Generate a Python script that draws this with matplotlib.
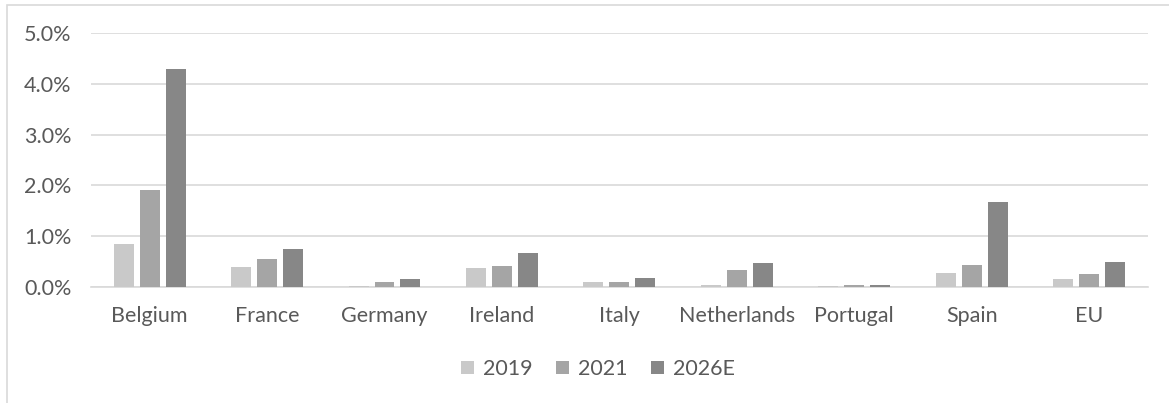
import matplotlib
matplotlib.use("Agg")
import matplotlib.pyplot as plt
import numpy as np
from matplotlib.patches import Rectangle
from matplotlib.ticker import FuncFormatter

countries = ["Belgium", "France", "Germany", "Ireland", "Italy",
             "Netherlands", "Portugal", "Spain", "EU"]
years = ["2019", "2021", "2026E"]
share_2019 = [0.85, 0.39, 0.01, 0.37, 0.09, 0.03, 0.01, 0.28, 0.15]
share_2021 = [1.90, 0.55, 0.10, 0.41, 0.09, 0.33, 0.03, 0.43, 0.25]
share_2026 = [4.29, 0.75, 0.15, 0.66, 0.17, 0.48, 0.04, 1.68, 0.50]

colors = ["#c9c9c9", "#a5a5a5", "#878787"]
text_color = "#595959"
grid_color = "#d9d9d9"

plt.rcParams["font.family"] = ["Lato", "DejaVu Sans"]

fig = plt.figure(figsize=(11.69, 4.03), dpi=100)
ax = fig.add_axes([0.0778, 0.288, 0.904, 0.630])

# chart frame (light border around the whole chart area)
fig.patches.append(Rectangle((7 / 1169, -0.05), 1.1, 1 - 5 / 403 + 0.05,
                             transform=fig.transFigure, fill=False,
                             edgecolor=grid_color, linewidth=1.2))

x = np.arange(len(countries))
width = 0.17
pitch = 0.221
for i, (vals, lab) in enumerate(zip([share_2019, share_2021, share_2026], years)):
    ax.bar(x + (i - 1) * pitch, np.array(vals) / 100, width, color=colors[i],
           label=lab, zorder=3)

ax.set_xlim(-0.5, len(countries) - 0.5)
ax.set_ylim(0, 0.05)
ax.set_yticks(np.arange(0, 0.051, 0.01))
ax.yaxis.set_major_formatter(FuncFormatter(lambda v, _: f"{v * 100:.1f}%"))
ax.set_xticks(x)
ax.set_xticklabels(countries)
ax.grid(axis="y", color=grid_color, linewidth=1.2, zorder=0)
for s in ["top", "right", "left"]:
    ax.spines[s].set_visible(False)
ax.spines["bottom"].set_color(grid_color)
ax.spines["bottom"].set_linewidth(1.2)
ax.tick_params(length=0, labelsize=15.5, colors=text_color)
ax.tick_params(axis="x", pad=14)
ax.tick_params(axis="y", pad=14)

leg = fig.legend(loc="center", bbox_to_anchor=(598 / 1169, 1 - 369 / 403), ncol=3,
                 frameon=False, fontsize=15.5, handlelength=0.6, handleheight=0.6,
                 handletextpad=0.4, columnspacing=1.1)
for t in leg.get_texts():
    t.set_color(text_color)

fig.savefig("out.png", dpi=100)
